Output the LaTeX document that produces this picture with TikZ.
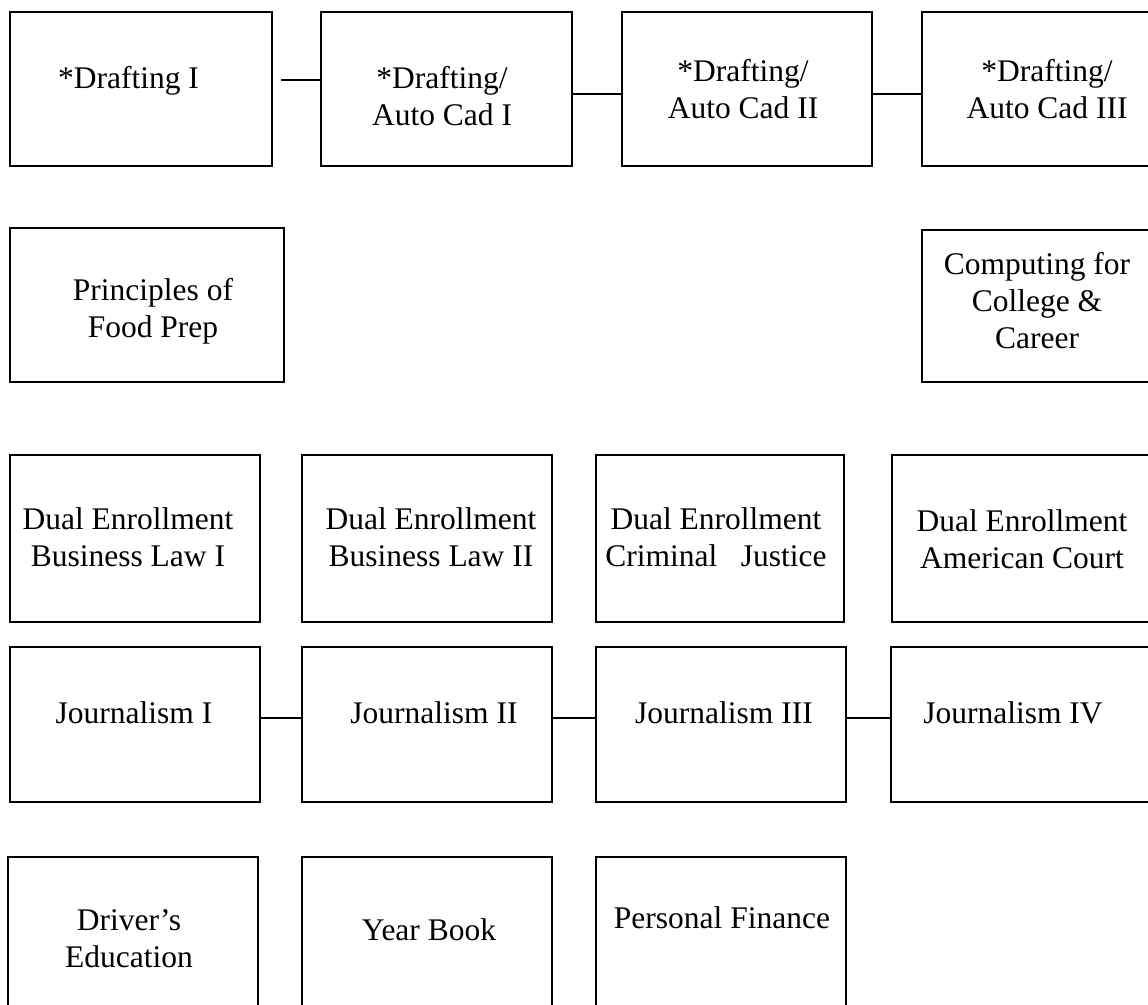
\documentclass[tikz,border=0pt]{standalone}
\usepackage{fontspec}
\setmainfont{Liberation Serif}
\begin{document}
\begin{tikzpicture}[x=1pt, y=-1pt,
		box/.style={draw, line width=2.5pt, inner sep=0pt},
		link/.style={line width=1.3pt},
		txt/.style={anchor=base, align=center, inner sep=0pt, font=\fontsize{31.5}{37}\selectfont}]
		\useasboundingbox (0,0) rectangle (1148,1004);
		% first row
		\node[box, minimum width=262pt, minimum height=154pt] (dr1) at (141,89) {};
		\node[box, minimum width=251pt, minimum height=154pt] (dr2) at (446.5,89) {};
		\node[box, minimum width=250pt, minimum height=154pt] (dr3) at (747,89) {};
		\node[box, minimum width=230pt, minimum height=154pt] (dr4) at (1037,89) {};
		\node[txt] (t-dr1) at (128.5,88) {*Drafting I};
		\node[txt] (t-dr2) at (442,125) {*Drafting/\\Auto Cad I};
		\node[txt] (t-dr3) at (743,118) {*Drafting/\\Auto Cad II};
		\node[txt] (t-dr4) at (1047,118) {*Drafting/\\Auto Cad III};
		\coordinate (g1) at (281,80);
		\coordinate (r1) at (0,94);
		\draw[link] (g1) -- (g1 -| dr2.west);
		\draw[link] (dr2.east |- r1) -- (dr3.west |- r1);
		\draw[link] (dr3.east |- r1) -- (dr4.west |- r1);
		% second row
		\node[box, minimum width=274pt, minimum height=154pt] (food) at (147,305) {};
		\node[box, minimum width=230pt, minimum height=152pt] (comp) at (1037,306) {};
		\node[txt] (t-food) at (153,337) {Principles of\\Food Prep};
		\node[txt] (t-comp) at (1037,348) {Computing for\\College \&\\Career};
		% dual enrollment
		\node[box, minimum width=250pt, minimum height=167pt] (de1) at (135,538.5) {};
		\node[box, minimum width=250pt, minimum height=167pt] (de2) at (427,538.5) {};
		\node[box, minimum width=248pt, minimum height=167pt] (de3) at (720,538.5) {};
		\node[box, minimum width=260pt, minimum height=167pt] (de4) at (1022,538.5) {};
		\node[txt] (t-de1) at (128,566) {Dual Enrollment\\Business Law I};
		\node[txt] (t-de2) at (431,566) {Dual Enrollment\\Business Law II};
		\node[txt] (t-de3) at (716,566) {Dual Enrollment\\Criminal\ \ \ Justice};
		\node[txt] (t-de4) at (1022,568) {Dual Enrollment\\American Court};
		% journalism
		\node[box, minimum width=250pt, minimum height=155pt] (jo1) at (135,724.5) {};
		\node[box, minimum width=250pt, minimum height=155pt] (jo2) at (427,724.5) {};
		\node[box, minimum width=250pt, minimum height=155pt] (jo3) at (721,724.5) {};
		\node[box, minimum width=261pt, minimum height=155pt] (jo4) at (1021.5,724.5) {};
		\node[txt] (t-jo1) at (134,723) {Journalism I};
		\node[txt] (t-jo2) at (434,723) {Journalism II};
		\node[txt] (t-jo3) at (724,723) {Journalism III};
		\node[txt] (t-jo4) at (1013,723) {Journalism IV};
		\coordinate (r4) at (0,718);
		\draw[link] (jo1.east |- r4) -- (jo2.west |- r4);
		\draw[link] (jo2.east |- r4) -- (jo3.west |- r4);
		\draw[link] (jo3.east |- r4) -- (jo4.west |- r4);
		% last row
		\node[box, minimum width=250pt, minimum height=153pt] (drv) at (133,933.5) {};
		\node[box, minimum width=250pt, minimum height=153pt] (yb) at (427,933.5) {};
		\node[box, minimum width=250pt, minimum height=153pt] (pf) at (721,933.5) {};
		\node[txt] (t-drv) at (129,967) {Driver’s\\Education};
		\node[txt] (t-yb) at (429,940) {Year Book};
		\node[txt] (t-pf) at (722,928) {Personal Finance};
	\end{tikzpicture}
\end{document}
